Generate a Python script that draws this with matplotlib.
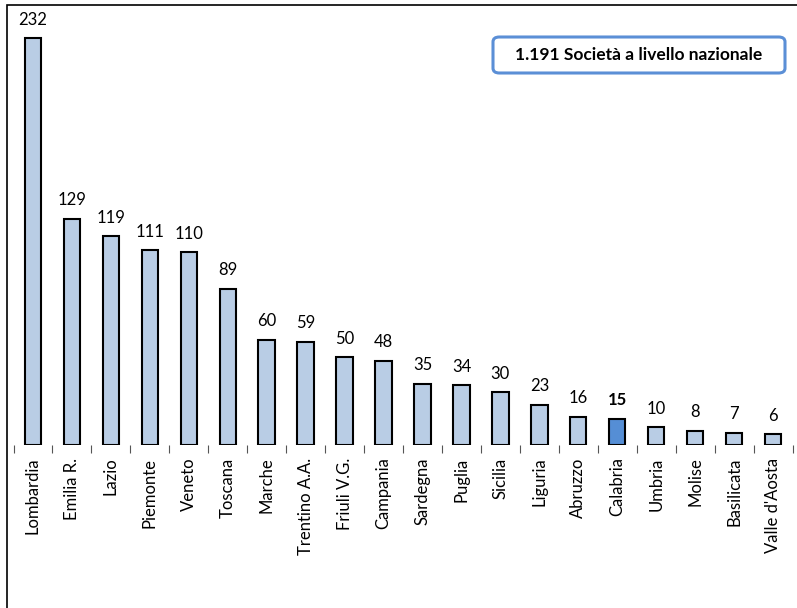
import numpy as np
import matplotlib.pyplot as plt
from matplotlib.patches import FancyBboxPatch, Rectangle

# data
regions = ["Lombardia", "Emilia R.", "Lazio", "Piemonte", "Veneto", "Toscana",
           "Marche", "Trentino A.A.", "Friuli V.G.", "Campania", "Sardegna",
           "Puglia", "Sicilia", "Liguria", "Abruzzo", "Calabria", "Umbria",
           "Molise", "Basilicata", "Valle d'Aosta"]
counts = [232, 129, 119, 111, 110, 89, 60, 59, 50, 48, 35, 34, 30, 23, 16,
          15, 10, 8, 7, 6]
highlight = "Calabria"
box_text = "1.191 Società a livello nazionale"

plt.rcParams['font.family'] = ['Lato', 'DejaVu Sans']

W, H = 797, 608
fig = plt.figure(figsize=(W / 100, H / 100), dpi=100)
ax = fig.add_axes([13.5 / W, (H - 445) / H, (792.5 - 13.5) / W, (445 - 5) / H])

x = np.arange(len(regions))
colors = ['#558ed5' if r == highlight else '#b9cde5' for r in regions]
ax.bar(x, counts, width=0.42, color=colors, edgecolor='black', linewidth=1.5)

for xi, v, r in zip(x, counts, regions):
    ax.text(xi, v + 6, str(v), ha='center', va='bottom', fontsize=12,
            fontweight='bold' if r == highlight else 'normal')

ax.set_xlim(-0.5, len(regions) - 0.5)
ax.set_ylim(0, 251)
ax.set_yticks([])
for s in ['top', 'right', 'left', 'bottom']:
    ax.spines[s].set_visible(False)

ax.set_xticks(x)
ax.set_xticklabels(regions, rotation=90, fontsize=12)
ax.tick_params(axis='x', length=0, pad=9)
ax.set_xticks(np.arange(-0.5, len(regions), 1), minor=True)
ax.tick_params(axis='x', which='minor', length=6, width=0.8, color='#555555')

# chart frame
fig.patches.append(Rectangle((7 / W, -0.01), 1.0, (H - 5) / H + 0.01,
                             transform=fig.transFigure, fill=False,
                             edgecolor='black', linewidth=1.2))

# info box
box = FancyBboxPatch((493 / W, (H - 73) / H), (785 - 493) / W, 36 / H,
                     boxstyle="round,pad=0,rounding_size=0.008",
                     transform=fig.transFigure, facecolor='white',
                     edgecolor='#5b8fd6', linewidth=2.2)
fig.patches.append(box)
fig.text((493 + 785) / 2 / W, (H - 55) / H, box_text, ha='center', va='center',
         fontsize=12.5, fontweight='bold')

fig.savefig("out.png", dpi=100)
